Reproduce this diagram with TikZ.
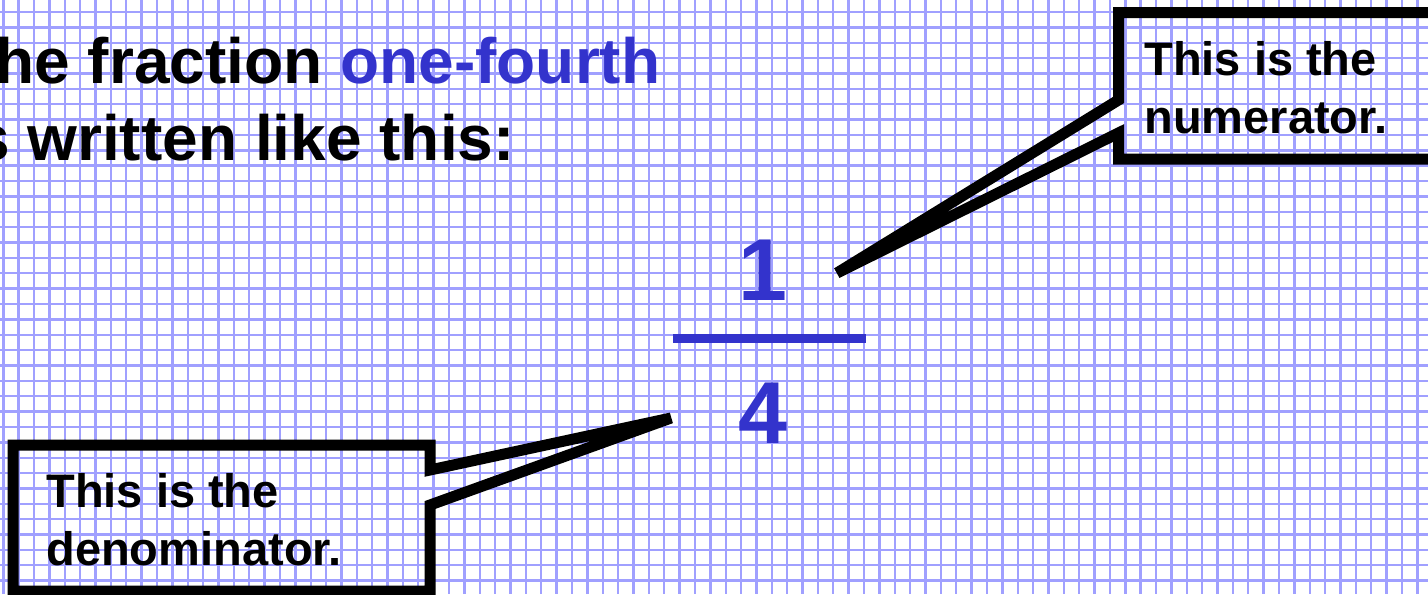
\documentclass[tikz,border=0pt]{standalone}
\usepackage{fontspec}
\setmainfont{Liberation Sans}
\usepackage{tikz}
\usetikzlibrary{positioning, calc}
\definecolor{FracBlue}{RGB}{51, 51, 204}
\definecolor{GridBlue}{RGB}{160, 160, 255}
\tikzset{every node/.style={inner sep=0pt},
  gridline/.style={GridBlue, line width=1.2pt},
  callout/.style={draw=black, line width=5.5pt, line join=miter},
  calltext/.style={font=\fontsize{23.5}{29}\selectfont\bfseries, align=left, anchor=base west},
  titletext/.style={font=\fontsize{32}{38.5}\selectfont\bfseries, align=left, anchor=base west},
  fracdigit/.style={font=\fontsize{44}{50}\selectfont\bfseries, text=FracBlue, anchor=base},
  fracbar/.style={FracBlue, line width=4.5pt}}

\begin{document}
\begin{tikzpicture}[x=0.5pt, y=-0.5pt]
    \useasboundingbox (0,0) rectangle (1428,594);
    \clip (0,0) rectangle (1428,594);
    \fill [white] (0,0) rectangle (1428,594);
    \foreach \gx in {0,...,92}
        \draw [gridline] ({3.3+15.37*\gx},0) -- ++(0,594);
    \foreach \gy in {0,...,38}
        \draw [gridline] (0,{-3.4+15.37*\gy}) -- ++(1428,0);

    \node [titletext] (title) at (-44,160) {
        The fraction \textcolor{FracBlue}{one-fourth} \\
        is written like this:
    };

    \node [fracdigit] (num) at (763,300) {1};
    \node [fracdigit] (den) at (763,443) {4};
    \draw [fracbar] (673,338.5) -- (866,338.5);

    \coordinate (numtip) at (837,273);
    \coordinate (dentip) at (671,418);
    \draw [callout] (1118.5,100) -- (1118.5,12.5) -- (1445,12.5) -- (1445,159)
        -- (1118.5,159) -- (1118.5,133) -- (numtip) -- cycle;
    \draw [callout] (430,505) -- (430,591) -- (13,591) -- (13,445) -- (430,445)
        -- (430,470) -- (dentip) -- cycle;

    \node [calltext] (numlabel) at (1144,133) {This is the \\ numerator.};
    \node [calltext] (denlabel) at (46,565) {This is the \\ denominator.};
\end{tikzpicture}
\end{document}
